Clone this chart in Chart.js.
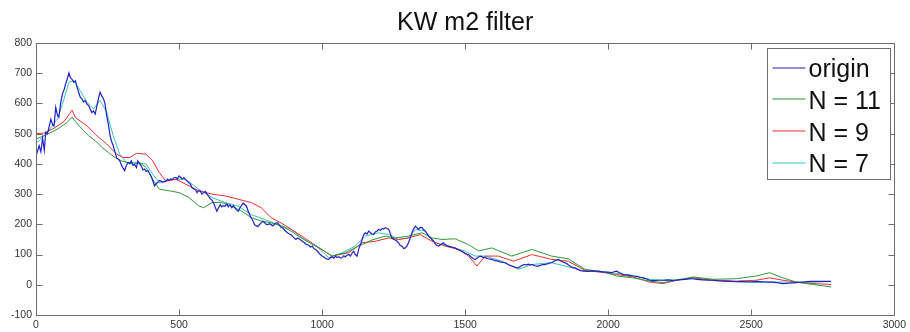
<!DOCTYPE html>
<html>
<head>
<meta charset="utf-8">
<script src="https://cdn.jsdelivr.net/npm/chart.js@4.4.1/dist/chart.umd.min.js"></script>
<style>
html,body{margin:0;padding:0;background:#fff;}
#wrap{width:910px;height:332px;position:relative;}
</style>
</head>
<body>
<div id="wrap"><canvas id="c"></canvas></div>
<script>
const chartTitle = "KW m2 filter";
const seriesLabels = ["origin", "N = 11", "N = 9", "N = 7"];
const xTicks = [0, 500, 1000, 1500, 2000, 2500, 3000];
const yTicks = [-100, 0, 100, 200, 300, 400, 500, 600, 700, 800];

const originX = [0,11,17,23,29,34,40,52,58,63,69,75,80,86,92,98,103,109,115,120,126,132,138,143,149,155,161,166,172,178,184,190,195,201,207,213,218,224,230,236,241,247,253,259,264,270,276,282,288,293,299,305,310,316,322,328,333,339,345,351,356,362,368,374,379,385,391,396,402,408,414,420,425,431,437,443,454,460,466,471,477,483,489,494,500,506,511,517,523,529,534,540,546,551,557,563,569,575,580,586,592,598,603,609,615,621,626,632,638,644,649,655,661,667,672,678,684,690,695,701,707,713,718,724,730,736,741,747,753,759,764,770,776,782,787,793,799,805,810,816,822,828,833,839,845,850,856,862,868,873,879,885,891,897,902,908,914,919,925,931,937,942,948,954,960,966,971,977,983,988,994,1000,1006,1012,1017,1023,1029,1035,1041,1047,1052,1058,1064,1070,1076,1081,1087,1093,1099,1105,1110,1116,1122,1128,1134,1140,1145,1151,1157,1163,1169,1175,1180,1186,1192,1198,1204,1210,1215,1221,1227,1233,1238,1244,1250,1256,1262,1268,1273,1279,1285,1291,1296,1302,1308,1314,1320,1326,1332,1337,1343,1349,1355,1360,1366,1372,1378,1384,1390,1395,1401,1407,1413,1419,1424,1430,1436,1442,1447,1453,1459,1465,1470,1476,1482,1488,1494,1500,1506,1512,1517,1523,1529,1535,1541,1547,1552,1558,1564,1570,1575,1581,1587,1593,1599,1604,1610,1616,1622,1628,1633,1640,1645,1651,1657,1663,1669,1675,1680,1686,1692,1698,1703,1709,1715,1721,1727,1733,1738,1744,1750,1756,1762,1767,1773,1779,1785,1791,1796,1802,1808,1814,1820,1826,1831,1837,1843,1849,1855,1860,1866,1872,1878,1884,1890,1896,1901,1907,1913,1919,1930,1940,1950,1965,1980,1994,2005,2012,2020,2029,2040,2052,2065,2075,2087,2100,2110,2122,2135,2145,2160,2175,2192,2210,2225,2238,2255,2270,2285,2297,2310,2330,2350,2366,2385,2405,2424,2445,2465,2483,2500,2520,2541,2560,2576,2595,2610,2630,2645,2657,2675,2690,2705,2730,2750,2765,2779];
const originY = [425,460,440,485,445,505,500,548,530,525,587,560,555,600,630,645,663,680,701,685,680,670,675,655,637,620,615,605,610,598,593,580,570,575,565,593,615,637,625,615,600,560,530,493,475,460,440,420,415,410,395,385,378,395,405,400,410,395,398,388,410,400,393,380,383,375,378,370,360,345,327,335,338,345,343,340,343,350,345,350,348,355,355,350,360,355,350,355,348,343,338,332,320,318,315,305,312,309,300,305,309,300,293,285,280,270,258,243,255,265,258,262,260,268,258,265,255,262,255,248,243,255,262,270,265,260,245,232,220,210,199,195,193,200,205,210,205,200,199,202,199,195,200,205,205,198,190,188,182,177,172,168,166,160,155,150,155,152,148,144,140,135,133,130,125,128,120,117,112,106,100,95,92,88,85,84,90,92,88,95,90,93,88,90,96,92,98,100,95,105,111,100,95,118,133,150,165,172,168,178,172,168,166,175,178,183,180,186,184,189,186,183,170,155,150,148,144,138,130,128,120,122,128,139,155,172,185,194,188,183,190,189,182,178,170,161,155,150,144,135,130,128,132,136,139,133,130,128,126,125,123,122,118,116,114,111,108,104,102,100,95,90,86,84,88,92,95,93,90,90,88,86,85,84,82,80,79,78,76,75,74,73,70,66,64,62,60,58,57,56,60,64,66,67,66,68,66,67,65,63,62,62,64,66,67,67,69,70,72,73,76,80,82,84,80,77,75,73,70,66,62,59,57,56,53,50,48,46,45,45,44,46,45,45,43,42,41,40,43,45,40,34,33,31,29,28,25,23,19,15,14,15,15,16,14,15,17,18,20,20,18,16,15,15,13,12,11,10,11,10,10,11,10,9,9,6,4,5,6,7,9,10,11,11,11,11,11];

const n11X = [0,40,75,109,126,138,161,184,207,230,253,276,299,339,362,385,408,431,466,500,534,569,586,615,649,684,718,753,787,822,856,891,925,985,1035,1081,1128,1174,1221,1256,1302,1349,1384,1419,1465,1512,1547,1593,1663,1733,1802,1860,1919,1988,2029,2087,2145,2192,2238,2297,2366,2448,2517,2564,2610,2657,2715,2779];
const n11Y = [482,498,515,537,555,540,515,493,477,455,438,421,410,399,404,388,349,316,311,305,289,261,255,272,272,260,244,222,211,205,195,178,156,125,95,106,128,148,161,155,161,172,155,150,152,133,112,122,95,117,95,86,51,42,29,23,12,7,15,26,18,20,29,40,23,9,1,-7];

const n9X = [0,29,63,98,126,138,178,213,247,282,305,328,351,385,408,431,454,489,523,569,615,661,707,753,787,822,856,891,937,985,1035,1093,1140,1186,1233,1267,1302,1343,1384,1430,1477,1512,1541,1570,1616,1669,1733,1802,1860,1919,1988,2029,2087,2145,2192,2238,2297,2366,2448,2517,2564,2610,2657,2715,2779];
const n9Y = [500,502,518,540,578,553,526,493,466,432,421,421,435,432,410,371,343,349,333,311,300,294,283,272,255,222,205,184,156,125,95,106,139,144,155,150,155,166,144,128,117,95,62,95,95,78,100,84,78,48,40,34,26,9,4,15,23,15,12,15,23,15,9,4,1];

const n7X = [0,40,75,98,115,132,155,178,201,224,247,270,293,316,351,385,408,431,477,523,569,615,661,707,753,799,845,891,937,985,1023,1070,1116,1151,1198,1233,1267,1302,1326,1360,1395,1442,1500,1535,1570,1628,1686,1733,1802,1849,1919,1994,2087,2145,2192,2297,2424,2517,2564,2610,2680,2779];
const n7Y = [466,505,549,615,670,675,642,604,582,610,571,493,432,405,405,399,366,338,349,349,316,289,272,260,232,216,199,184,150,123,90,106,128,161,172,166,150,155,183,178,139,128,111,95,95,78,51,67,73,62,45,42,31,18,15,20,12,7,9,9,7,11];

const seriesColors = ["#2121c8", "#2f9a3a", "#e53030", "#35c4c4"];

function pts(xs, ys){ return xs.map((x,i)=>({x:x, y:ys[i]})); }

const allX = [originX, n11X, n9X, n7X];
const allY = [originY, n11Y, n9Y, n7Y];

const datasets = seriesLabels.map((lab,i)=>({
  label: lab,
  data: pts(allX[i], allY[i]),
  borderColor: seriesColors[i],
  backgroundColor: seriesColors[i],
  borderWidth: i===0 ? 1.2 : 1,
  pointRadius: 0,
  tension: 0,
  fill: false
}));

const frameTicks = {
  id: 'frameTicks',
  afterDraw(chart){
    const {ctx, chartArea:a, scales:{x, y}} = chart;
    const L = Math.round(a.left)+0.5, R = Math.round(a.right)+0.5, T = Math.round(a.top)+0.5, B = Math.round(a.bottom)+0.5;
    ctx.save();
    ctx.strokeStyle = '#6e6e6e';
    ctx.lineWidth = 1;
    ctx.strokeRect(L, T, R-L, B-T);
    const tl = 6;
    ctx.beginPath();
    xTicks.forEach(v=>{
      const px = Math.round(x.getPixelForValue(v))+0.5;
      ctx.moveTo(px, B); ctx.lineTo(px, B-tl);
      ctx.moveTo(px, T); ctx.lineTo(px, T+tl);
    });
    yTicks.forEach(v=>{
      const py = Math.round(y.getPixelForValue(v))+0.5;
      ctx.moveTo(L, py); ctx.lineTo(L+tl, py);
      ctx.moveTo(R, py); ctx.lineTo(R-tl, py);
    });
    ctx.stroke();

    // legend box
    const bw = 123, bh = 131;
    const bx = Math.round(a.right - 4 - bw)+0.5, by = Math.round(a.top + 5)+0.5;
    ctx.fillStyle = '#ffffff';
    ctx.fillRect(bx, by, bw, bh);
    ctx.strokeStyle = '#6e6e6e';
    ctx.strokeRect(bx, by, bw, bh);
    ctx.font = '25px "Liberation Sans", Arial, sans-serif';
    ctx.textAlign = 'left';
    ctx.textBaseline = 'alphabetic';
    seriesLabels.forEach((lab,i)=>{
      const base = by + 28.7 + i*31.7;
      const ly = Math.round(base - 9.5);
      ctx.beginPath();
      ctx.strokeStyle = seriesColors[i];
      ctx.lineWidth = 1.2;
      ctx.moveTo(bx + 5, ly); ctx.lineTo(bx + 38, ly);
      ctx.stroke();
      ctx.fillStyle = '#111';
      ctx.fillText(lab, bx + 41, base);
    });
    ctx.restore();
  }
};

new Chart(document.getElementById('c'), {
  type: 'line',
  data: { datasets: datasets },
  options: {
    responsive: true,
    maintainAspectRatio: false,
    animation: false,
    devicePixelRatio: 1,
    layout: { padding: { left: 0, right: 13, top: 0, bottom: 0 } },
    plugins: {
      legend: { display: false },
      tooltip: { enabled: false },
      title: {
        display: true,
        text: chartTitle,
        fullSize: false,
        color: '#111',
        font: { family: '"Liberation Sans", Arial, sans-serif', size: 25, weight: 'normal', lineHeight: 1.2 },
        padding: { top: 8, bottom: 5 }
      }
    },
    scales: {
      x: {
        type: 'linear',
        min: 0, max: 3000,
        afterFit(s){ s.height = 17; },
        afterBuildTicks(s){ s.ticks = xTicks.map(v=>({value:v})); },
        grid: { display: false, drawTicks: false },
        border: { display: false },
        ticks: { color: '#333', padding: 4, maxRotation: 0, autoSkip: false,
                 callback: (v)=>String(v),
                 font: { family: '"Liberation Sans", Arial, sans-serif', size: 10.5 } }
      },
      y: {
        type: 'linear',
        min: -100, max: 800,
        afterFit(s){ s.width = 36; },
        afterBuildTicks(s){ s.ticks = yTicks.map(v=>({value:v})); },
        grid: { display: false, drawTicks: false },
        border: { display: false },
        ticks: { color: '#333', padding: 4, autoSkip: false,
                 callback: (v)=>String(v),
                 font: { family: '"Liberation Sans", Arial, sans-serif', size: 10.5 } }
      }
    }
  },
  plugins: [frameTicks]
});
</script>
</body>
</html>
